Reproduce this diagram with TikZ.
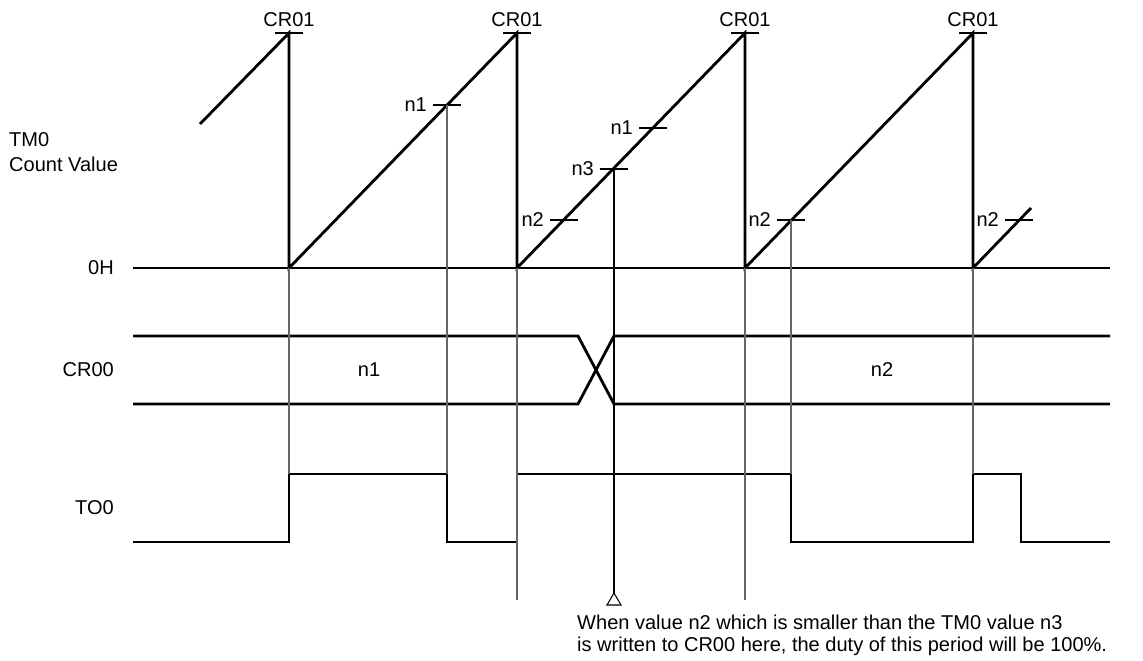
\documentclass[tikz,border=0pt]{standalone}
\usepackage{fontspec}
\setmainfont{Liberation Sans}
\begin{document}
\begin{tikzpicture}[x=0.02cm, y=-0.02cm,
    font=\fontsize{11.4}{13.5}\selectfont,
    wave/.style={line width=1.6pt},
    thinline/.style={line width=0.6pt},
    guide/.style={line width=0.6pt, black!60}]
\useasboundingbox (0,0) rectangle (1143,661);

% reset points of the counter (top = CR01, bottom = 0H)
\foreach \x [count=\i] in {289,517,745,973} {
    \coordinate (top\i) at (\x,33); \coordinate (bot\i) at (\x,268);
    \draw[thinline] (\x-14,33) -- (\x+14,33);
    \node[anchor=south] (cr\i) at (top\i) {CR01};
}
\coordinate (start) at (200,124); \coordinate (stop) at (1031,208);

% TM0 count value
\draw[thinline] (133,268) -- (1110,268);
\draw[wave] (start) -- (top1) -- (bot1) -- (top2) -- (bot2) -- (top3) -- (bot3) -- (top4) -- (bot4) -- (stop);

% compare values on the ramps
\foreach \x/\y/\t/\nm in {447/105/n1/a, 564/220/n2/b, 653/128/n1/c, 614/169/n3/d, 791/220/n2/e, 1019/220/n2/f} {
    \coordinate (\nm) at (\x,\y);
    \draw[thinline] (\x-14,\y) -- (\x+14,\y);
    \node[anchor=east] (lab\nm) at (\x-14,\y) {\t};
}

% CR00 bus
\draw[wave] (133,336) -- (578,336) -- (614,404) -- (1110,404);
\draw[wave] (133,404) -- (578,404) -- (614,336) -- (1110,336);
\node (busa) at (369,370) {n1};
\node (busb) at (882,370) {n2};

% TO0 output
\draw[wave] (133,542) -- (289,542) -- (289,474) -- (447,474) -- (447,542) -- (517,542) -- (517,474)
    -- (791,474) -- (791,542) -- (973,542) -- (973,474) -- (1021,474) -- (1021,542) -- (1110,542);

% guide lines
\draw[guide] (bot1) -- (289,474);
\draw[guide] (a) -- (447,474);
\draw[guide] (bot2) -- (517,600);
\draw[guide] (bot3) -- (745,600);
\draw[guide] (e) -- (791,474);
\draw[guide] (bot4) -- (973,474);
\coordinate (tip) at (614,593);
\draw[thinline] (d) -- (tip);
\draw[thinline] (tip) -- (607,605) -- (621,605) -- cycle;

% row labels
\node[anchor=north west, align=left, font=\fontsize{11.4}{14.2}\selectfont] (tm0) at (3,126) {TM0\\Count Value};
\node[anchor=east] (zeroh) at (120,268) {0H};
\node[anchor=east] (cr00) at (120,370) {CR00};
\node[anchor=east] (to0) at (120,508) {TO0};

\node[anchor=north west, align=left, font=\fontsize{11.4}{12.2}\selectfont] (note) at (571,609)
    {When value n2 which is smaller than the TM0 value n3\\is written to CR00 here, the duty of this period will be 100\%.};
\end{tikzpicture}
\end{document}
